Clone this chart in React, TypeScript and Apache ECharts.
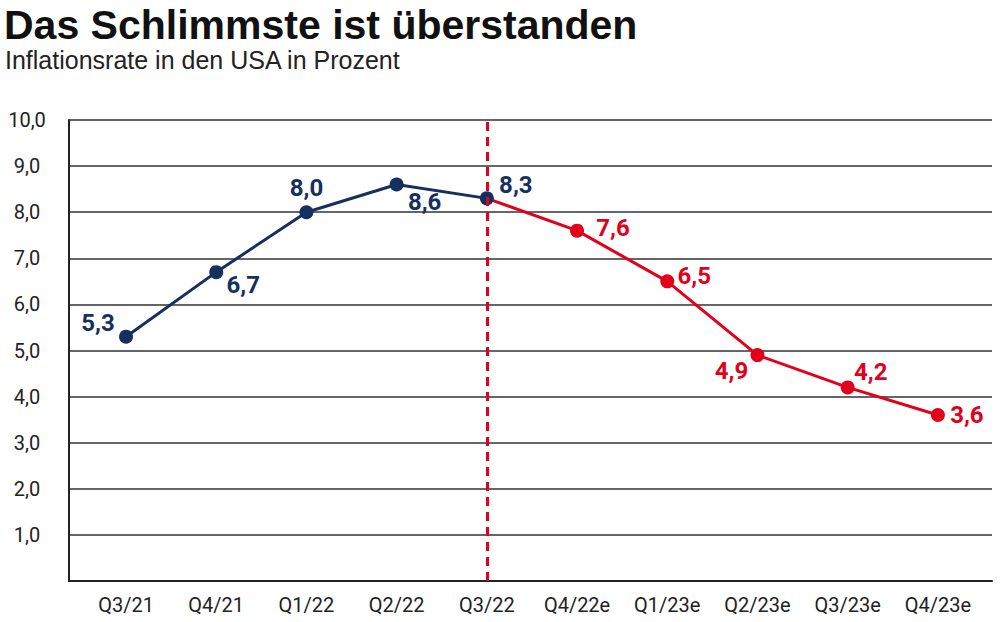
import React, { useEffect, useRef } from "react";
import * as echarts from "echarts";

const categories = ["Q3/21", "Q4/21", "Q1/22", "Q2/22", "Q3/22", "Q4/22e", "Q1/23e", "Q2/23e", "Q3/23e", "Q4/23e"];
const inflation = [5.3, 6.7, 8.0, 8.6, 8.3, 7.6, 6.5, 4.9, 4.2, 3.6];
const lastActualIndex = 4;
const yMin = 0;
const yMax = 10;
const yStep = 1;

const titleText = "Das Schlimmste ist überstanden";
const subtitleText = "Inflationsrate in den USA in Prozent";

// label offsets (style only) relative to each point
const labelOffsets: number[][] = [
  [-28, -14], [27, 13], [0, -24], [28, 17], [29, -13],
  [36, -3], [27, -5], [-26, 16], [23, -15], [29, 0],
];

const NAVY = "#15305f";
const RED = "#e2001a";
const FONT = "Roboto, 'Liberation Sans', Arial, sans-serif";

const fmt = (v: number) => v.toFixed(1).replace(".", ",");

export default function App() {
  const ref = useRef<HTMLDivElement>(null);
  useEffect(() => {
    document.body.style.margin = "0";
    if (!ref.current) return;
    const chart = echarts.init(ref.current, undefined, { renderer: "svg" });

    const point = (i: number, color: string, hidden: boolean) => ({
      value: [i, inflation[i]],
      symbolSize: hidden ? 0 : 14,
      label: {
        show: !hidden,
        position: "inside",
        offset: labelOffsets[i],
        formatter: () => fmt(inflation[i]),
        color,
        fontFamily: FONT,
        fontWeight: "bold",
        fontSize: 24,
      },
    });

    const blueData = inflation
      .map((_, i) => i)
      .filter((i) => i <= lastActualIndex)
      .map((i) => point(i, NAVY, false));
    const redData = inflation
      .map((_, i) => i)
      .filter((i) => i >= lastActualIndex)
      .map((i) => point(i, RED, i === lastActualIndex));

    chart.setOption({
      animation: false,
      backgroundColor: "#ffffff",
      graphic: [
        {
          type: "text",
          left: 4,
          top: 4,
          style: { text: titleText, font: `bold 41px 'Liberation Sans', Arial, sans-serif`, lineHeight: 40, fill: "#111111" },
        },
        {
          type: "text",
          left: 5,
          top: 47,
          style: { text: subtitleText, font: `25px 'Liberation Sans', Arial, sans-serif`, lineHeight: 26, fill: "#222222" },
        },
      ],
      grid: { left: 69, right: 8, top: 120, bottom: 41 },
      xAxis: {
        type: "value",
        min: -0.632,
        max: 9.6,
        axisLine: { show: true, onZero: false, lineStyle: { color: "#222", width: 2 } },
        axisTick: { show: false },
        splitLine: { show: false },
        axisLabel: {
          customValues: categories.map((_, i) => i),
          formatter: (v: number) => categories[Math.round(v)] ?? "",
          color: "#222",
          fontFamily: FONT,
          fontSize: 20,
          margin: 14,
        },
      },
      yAxis: {
        type: "value",
        min: yMin,
        max: yMax,
        interval: yStep,
        axisLine: { show: true, onZero: false, lineStyle: { color: "#222", width: 2 } },
        axisTick: { show: false },
        splitLine: { show: true, lineStyle: { color: "#333", width: 1.5 } },
        axisLabel: {
          formatter: (v: number) => (v === 0 ? "" : fmt(v)),
          color: "#222",
          fontFamily: FONT,
          fontSize: 20,
          align: "center",
          margin: 42,
        },
      },
      series: [
        {
          type: "line",
          name: "Prognose",
          data: redData,
          symbol: "circle",
          itemStyle: { color: RED },
          lineStyle: { color: RED, width: 3 },
          z: 2,
          markLine: {
            silent: true,
            symbol: "none",
            label: { show: false },
            lineStyle: { color: RED, type: [9, 6], width: 3 },
            data: [{ xAxis: lastActualIndex }],
          },
        },
        {
          type: "line",
          name: "Ist",
          data: blueData,
          symbol: "circle",
          itemStyle: { color: NAVY },
          lineStyle: { color: NAVY, width: 3 },
          z: 3,
        },
      ],
    });
    return () => chart.dispose();
  }, []);
  return <div ref={ref} style={{ width: 1000, height: 622 }} />;
}
